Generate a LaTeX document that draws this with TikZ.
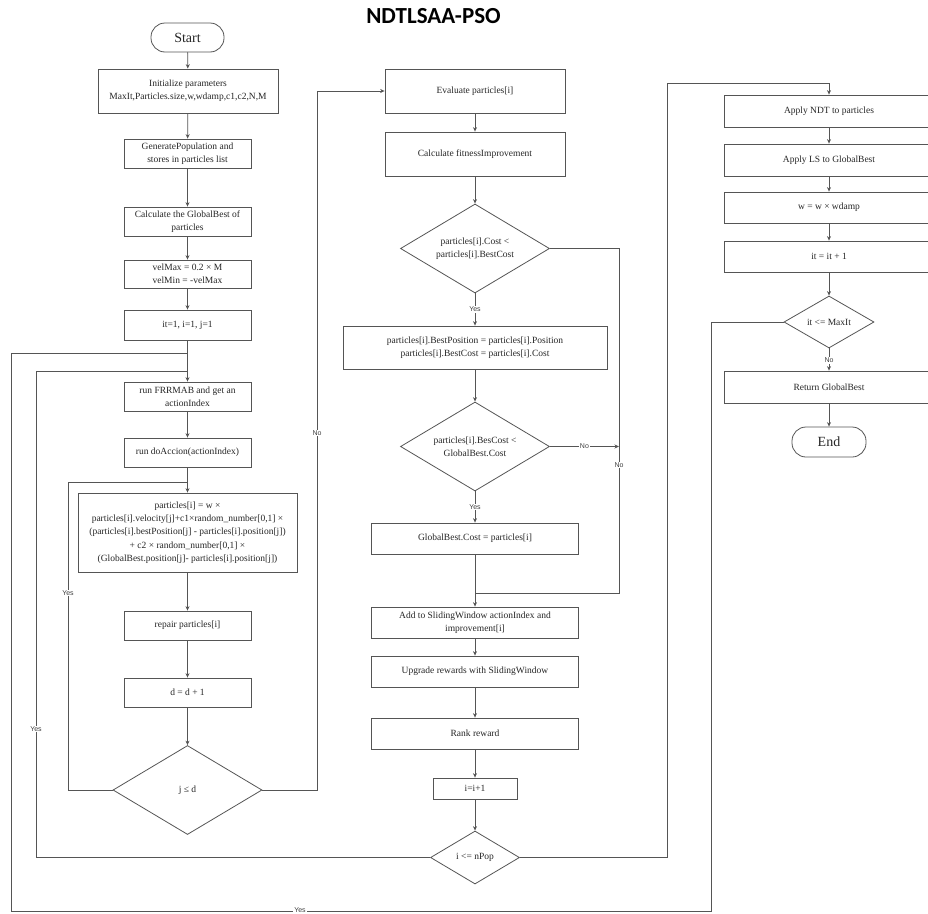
\documentclass[tikz,border=0pt]{standalone}
\usepackage{fontspec}
\setmainfont{Liberation Serif}
\newfontfamily\labelfont{Liberation Sans}
\newfontfamily\titlefont{Carlito}
\usetikzlibrary{shapes.geometric,arrows.meta,calc}
\definecolor{ln}{HTML}{555555}
\tikzset{
  box/.style={draw=ln, line width=0.8pt, rectangle, inner sep=1pt, align=center,
    font=\fontsize{9.5}{13.3}\selectfont, text=black!85},
  term/.style={draw=ln, line width=0.8pt, rounded corners=14pt, inner sep=0pt,
    font=\fontsize{14}{16}\selectfont, text=black!85},
  dec/.style={draw=ln, line width=0.8pt, diamond, aspect=1.67, inner sep=0pt, align=center,
    font=\fontsize{9.5}{13.3}\selectfont, text=black!85},
  conn/.style={draw=ln, line width=0.8pt},
  arr/.style={conn, -{Stealth[length=4.5pt,width=4pt]}},
  lbl/.style={fill=white, inner sep=0.8pt, font=\labelfont\fontsize{7}{8}\selectfont, text=black!75},
}
\begin{document}
\begin{tikzpicture}[x=1pt,y=-1pt]
\useasboundingbox (0,0) rectangle (928,913);
\clip (0,0) rectangle (928,913);
\fill[white] (0,0) rectangle (928,913);

\node[font=\titlefont\bfseries\fontsize{23}{26}\selectfont] (title) at (433.5,16) {NDTLSAA-PSO};

% left column
\node[term, minimum width=73pt, minimum height=29pt] (start) at (187.5,37.5) {Start};
\node[box, minimum width=180pt, minimum height=44pt] (init) at (188,91) {Initialize parameters\\MaxIt,Particles.size,w,wdamp,c1,c2,N,M};
\node[box, minimum width=127pt, minimum height=29pt] (gen) at (187.5,153.5) {GeneratePopulation and\\stores in particles list};
\node[box, minimum width=127pt, minimum height=29pt] (calc) at (187.5,221.5) {Calculate the GlobalBest of\\particles};
\node[box, minimum width=127pt, minimum height=28pt] (vel) at (187.5,274) {velMax = 0.2 × M\\velMin = -velMax};
\node[box, minimum width=127pt, minimum height=30pt] (itinit) at (187.5,325) {it=1, i=1, j=1};
\node[box, minimum width=127pt, minimum height=29pt] (frr) at (187.5,396.5) {run FRRMAB and get an\\actionIndex};
\node[box, minimum width=127pt, minimum height=29pt] (doa) at (187.5,452.5) {run doAccion(actionIndex)};
\node[box, minimum width=219pt, minimum height=79pt] (upd) at (187.5,532.5) {particles[i] = w ×\\particles[i].velocity[j]+c1×random\_number[0,1] ×\\(particles[i].bestPosition[j] - particles[i].position[j])\\+ c2 × random\_number[0,1] ×\\(GlobalBest.position[j]- particles[i].position[j])};
\node[box, minimum width=127pt, minimum height=29pt] (rep) at (187.5,625.5) {repair particles[i]};
\node[box, minimum width=127pt, minimum height=29pt] (dinc) at (187.5,692.5) {d = d + 1};
\node[dec, minimum width=149pt, minimum height=89pt] (jd) at (187.5,790) {j ≤ d};

% middle column
\node[box, minimum width=180pt, minimum height=44pt] (eval) at (475,91) {Evaluate particles[i]};
\node[box, minimum width=180pt, minimum height=44pt] (fit) at (475,154) {Calculate fitnessImprovement};
\node[dec, minimum width=149pt, minimum height=89pt] (dc1) at (475,248.5) {particles[i].Cost <\\particles[i].BestCost};
\node[box, minimum width=264pt, minimum height=43pt] (bp) at (475,347.5) {particles[i].BestPosition = particles[i].Position\\particles[i].BestCost = particles[i].Cost};
\node[dec, minimum width=149pt, minimum height=89pt] (dc2) at (475,446.5) {particles[i].BesCost <\\GlobalBest.Cost};
\node[box, minimum width=207pt, minimum height=31pt] (gbc) at (475,538.5) {GlobalBest.Cost = particles[i]};
\node[box, minimum width=207pt, minimum height=31pt] (sw) at (475,622.5) {Add to SlidingWindow actionIndex and\\improvement[i]};
\node[box, minimum width=207pt, minimum height=31pt] (upg) at (475,671.5) {Upgrade rewards with SlidingWindow};
\node[box, minimum width=207pt, minimum height=31pt] (rank) at (475,733.5) {Rank reward};
\node[box, minimum width=84pt, minimum height=21pt] (iinc) at (475,788.5) {i=i+1};
\node[dec, minimum width=89pt, minimum height=53pt] (dpop) at (475,857.5) {i <= nPop};

% right column
\node[box, minimum width=210pt, minimum height=32pt] (ndt) at (829,111) {Apply NDT to particles};
\node[box, minimum width=210pt, minimum height=32pt] (ls) at (829,160) {Apply LS to GlobalBest};
\node[box, minimum width=210pt, minimum height=31pt] (wd) at (829,207.5) {w = w × wdamp};
\node[box, minimum width=210pt, minimum height=31pt] (itinc) at (829,256.5) {it = it + 1};
\node[dec, minimum width=90pt, minimum height=52pt] (dmax) at (829,322) {it <= MaxIt};
\node[box, minimum width=210pt, minimum height=32pt] (ret) at (829,387) {Return GlobalBest};
\node[term, minimum width=74pt, minimum height=30pt] (end) at (829,442) {End};

% routing coordinates
\coordinate (jy) at (68,482);
\coordinate (jn) at (317,91);
\coordinate (py) at (36,371);
\coordinate (oy) at (11,353);
\coordinate (ob) at (711,911.5);
\coordinate (pn) at (667,83);
\coordinate (c1r) at (619,593);

% main straight arrows
\draw[arr] (start) -- (init);
\draw[arr] (init) -- (gen);
\draw[arr] (gen) -- (calc);
\draw[arr] (calc) -- (vel);
\draw[arr] (vel) -- (itinit);
\draw[arr] (itinit) -- (frr);
\draw[arr] (frr) -- (doa);
\draw[arr] (doa) -- (upd);
\draw[arr] (upd) -- (rep);
\draw[arr] (rep) -- (dinc);
\draw[arr] (dinc) -- (jd);

\draw[arr] (eval) -- (fit);
\draw[arr] (fit) -- (dc1);
\draw[arr] (dc1) -- node[lbl, pos=0.5] {Yes} (bp);
\draw[arr] (bp) -- (dc2);
\draw[arr] (dc2) -- node[lbl, pos=0.5] {Yes} (gbc);
\draw[arr] (gbc) -- (sw);
\draw[arr] (sw) -- (upg);
\draw[arr] (upg) -- (rank);
\draw[arr] (rank) -- (iinc);
\draw[arr] (iinc) -- (dpop);

\draw[arr] (ndt) -- (ls);
\draw[arr] (ls) -- (wd);
\draw[arr] (wd) -- (itinc);
\draw[arr] (itinc) -- (dmax);
\draw[arr] (dmax) -- node[lbl, pos=0.55] {No} (ret);
\draw[arr] (ret) -- (end);

% loops
\draw[conn] (jd.west) -| (jy) -- (jy -| upd.north);
\node[lbl] at (68,593) {Yes};
\draw[arr] (jd.east) -| (jn) -- (eval.west);
\node[lbl] at (317,433) {No};

\draw[conn] (dc1.east) -| (c1r) -- (c1r -| sw.north);
\draw[arr] (dc2.east) -- node[lbl, pos=0.5] {No} (dc2.east -| c1r);
\node[lbl] at (619,465) {No};

\draw[conn] (dpop.west) -| (py) -- (py -| frr.north);
\node[lbl] at (36,729) {Yes};
\draw[arr] (dpop.east) -| (pn) -| (ndt.north);

\draw[conn] (dmax.west) -| (ob) -| (oy) -- (oy -| frr.north);
\node[lbl] at (300,910) {Yes};
\end{tikzpicture}
\end{document}
